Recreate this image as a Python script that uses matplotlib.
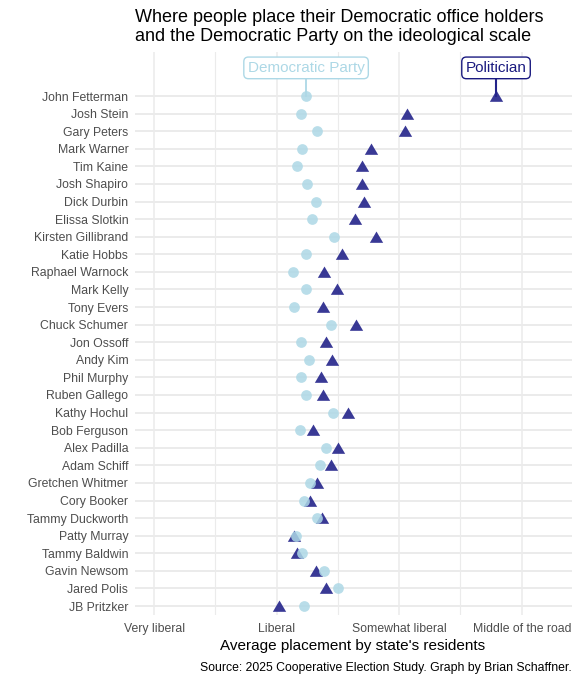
import numpy as np
import matplotlib.pyplot as plt

plt.rcParams['font.family'] = ['Liberation Sans', 'DejaVu Sans']

# ===================== DATA =====================
names = [
    "John Fetterman", "Josh Stein", "Gary Peters", "Mark Warner", "Tim Kaine",
    "Josh Shapiro", "Dick Durbin", "Elissa Slotkin", "Kirsten Gillibrand",
    "Katie Hobbs", "Raphael Warnock", "Mark Kelly", "Tony Evers",
    "Chuck Schumer", "Jon Ossoff", "Andy Kim", "Phil Murphy", "Ruben Gallego",
    "Kathy Hochul", "Bob Ferguson", "Alex Padilla", "Adam Schiff",
    "Gretchen Whitmer", "Cory Booker", "Tammy Duckworth", "Patty Murray",
    "Tammy Baldwin", "Gavin Newsom", "Jared Polis", "JB Pritzker",
]

# where residents place the Democratic Party
party_vals = [
    2.24, 2.20, 2.33, 2.21, 2.17, 2.25, 2.32, 2.29, 2.47,
    2.24, 2.13, 2.24, 2.14, 2.44, 2.20, 2.26, 2.20, 2.24,
    2.46, 2.19, 2.40, 2.35, 2.27, 2.22, 2.33, 2.16,
    2.21, 2.39, 2.50, 2.22,
]

# where residents place the politician
pol_vals = [
    3.79, 3.06, 3.05, 2.77, 2.70, 2.70, 2.71, 2.64, 2.81,
    2.53, 2.39, 2.49, 2.38, 2.65, 2.40, 2.45, 2.36, 2.38,
    2.58, 2.30, 2.50, 2.44, 2.33, 2.27, 2.37, 2.14,
    2.17, 2.32, 2.40, 2.02,
]

tick_vals = [1, 2, 3, 4]
tick_labels = ["Very liberal", "Liberal", "Somewhat liberal", "Middle of the road"]

# ===================== PLOT =====================
W, H = 580, 680
fig = plt.figure(figsize=(W / 100, H / 100), dpi=100)
ax = fig.add_axes([134.5 / W, 1 - 615 / H, (572 - 134.5) / W, (615 - 51.7) / H])

n = len(names)
ypos = np.arange(n, 0, -1)

light = '#ADD8E6'
dark = '#23238A'
grid_c = '#EBEBEB'

# grid
for v in [1, 2, 3, 4]:
    ax.axvline(v, color=grid_c, lw=1.1, zorder=0)
for v in [1.5, 2.5, 3.5]:
    ax.axvline(v, color=grid_c, lw=0.8, zorder=0)
for y in ypos:
    ax.axhline(y, color=grid_c, lw=1.4, zorder=0)

tri = [(-1, -0.8), (1, -0.8), (0, 0.9)]
ax.scatter(pol_vals, ypos, marker=tri, s=92, color=dark, alpha=0.9,
           linewidths=0, zorder=3)
ax.scatter(party_vals, ypos, marker='o', s=60, color=light, alpha=0.85,
           linewidths=0, zorder=4)

# labels above the first row
lab_y = n + 1.6
ax.plot([party_vals[0]] * 2, [n, lab_y], color=light, lw=1.3, zorder=2)
ax.plot([pol_vals[0]] * 2, [n, lab_y], color=dark, lw=1.5, zorder=2)
ax.text(party_vals[0], lab_y, "Democratic Party", color=light, fontsize=11,
        ha='center', va='center', zorder=5,
        bbox=dict(boxstyle='round,pad=0.25,rounding_size=0.3', fc='white',
                  ec=light, lw=1.0))
ax.text(pol_vals[0], lab_y, "Politician", color='#1A1A80', fontsize=11,
        ha='center', va='center', zorder=5,
        bbox=dict(boxstyle='round,pad=0.25,rounding_size=0.3', fc='white',
                  ec='#1A1A80', lw=1.0))

ax.set_xlim(0.84, 4.41)
ax.set_ylim(0.49, 32.52)
ax.set_xticks(tick_vals)
ax.set_xticklabels(tick_labels)
ax.set_yticks(ypos)
ax.set_yticklabels(names)
ax.tick_params(axis='both', length=0, labelsize=8.8, labelcolor='#4D4D4D')
ax.tick_params(axis='x', pad=6)
ax.tick_params(axis='y', pad=4.5)
for s in ax.spines.values():
    s.set_visible(False)

# titles and captions
fig.text(135 / W, 1 - 21.5 / H, "Where people place their Democratic office holders",
         fontsize=13.0, ha='left', va='baseline')
fig.text(135 / W, 1 - 41 / H, "and the Democratic Party on the ideological scale",
         fontsize=13.0, ha='left', va='baseline')
fig.text(353 / W, 1 - 650 / H, "Average placement by state's residents",
         fontsize=11, ha='center', va='baseline')
fig.text(572 / W, 1 - 670.5 / H,
         "Source: 2025 Cooperative Election Study. Graph by Brian Schaffner.",
         fontsize=8.8, ha='right', va='baseline')

fig.savefig('out.png', dpi=100)
